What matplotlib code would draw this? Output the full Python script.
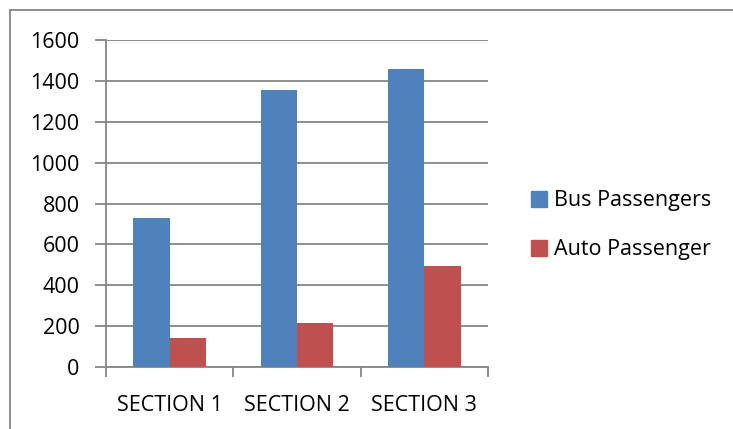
import matplotlib
matplotlib.use("Agg")
import matplotlib.pyplot as plt
from matplotlib.lines import Line2D
from matplotlib.patches import Rectangle
import numpy as np

categories = ["SECTION 1", "SECTION 2", "SECTION 3"]
bus_passengers = [727, 1354, 1459]
auto_passengers = [143, 214, 493]
series_names = ["Bus Passengers", "Auto Passenger"]
colors = ["#4F81BD", "#C0504D"]
y_ticks = [0, 200, 400, 600, 800, 1000, 1200, 1400, 1600]

W, H = 733, 429
fig = plt.figure(figsize=(W / 100, H / 100), dpi=100)
plt.rcParams["font.family"] = ["Open Sans", "DejaVu Sans"]
FS = 15.5

# axes placed in pixel terms
left, right, top, bottom = 106, 488, 40, 367
ax = fig.add_axes([left / W, 1 - bottom / H, (right - left) / W, (bottom - top) / H])

x = np.arange(len(categories))
bw = 0.285
ax.bar(x - bw / 2, bus_passengers, bw, color=colors[0], zorder=3)
ax.bar(x + bw / 2, auto_passengers, bw, color=colors[1], zorder=3)

ax.set_xlim(-0.5, len(categories) - 0.5)
ax.set_ylim(0, 1600)
ax.set_yticks(y_ticks)
ax.set_yticklabels([str(v) for v in y_ticks], fontsize=FS)
ax.yaxis.grid(True, color="#868686", linewidth=1.3, zorder=0)
ax.set_axisbelow(True)

# category ticks at group boundaries, labels centred
ax.set_xticks(np.arange(-0.5, len(categories), 1.0))
ax.set_xticklabels([])
ax.set_xticks(x, minor=True)
ax.set_xticklabels(categories, minor=True, fontsize=FS)
ax.tick_params(axis="x", which="minor", length=0, pad=20)
ax.tick_params(axis="x", which="major", length=7, width=1.3, color="#868686", direction="out")
ax.tick_params(axis="y", length=8, width=1.3, color="#868686", direction="out", pad=11)

for s in ["top", "right"]:
    ax.spines[s].set_visible(False)
for s in ["left", "bottom"]:
    ax.spines[s].set_color("#868686")
    ax.spines[s].set_linewidth(1.3)

# legend
handles = [Rectangle((0, 0), 1, 1, color=c) for c in colors]
fig.legend(handles, series_names, loc="upper left",
           bbox_to_anchor=(514 / W, 1 - 173 / H), frameon=False,
           fontsize=FS, handlelength=0.75, handleheight=0.75,
           handletextpad=0.3, labelspacing=1.3, borderpad=0.3)

# outer chart border
fig.add_artist(Line2D([10 / W, 10 / W], [0, 1 - 10 / H], transform=fig.transFigure,
                      color="#868686", linewidth=1.3))
fig.add_artist(Line2D([10 / W, 1], [1 - 10 / H, 1 - 10 / H], transform=fig.transFigure,
                      color="#868686", linewidth=1.3))

fig.savefig("out.png", dpi=100)
